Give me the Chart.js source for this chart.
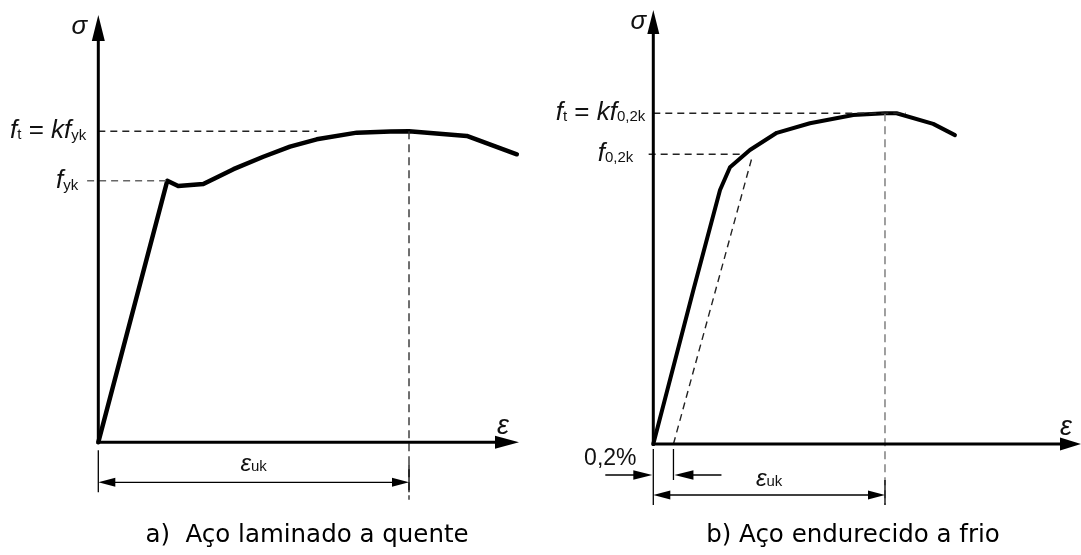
<!DOCTYPE html>
<html>
<head>
<meta charset="utf-8">
<script src="https://cdn.jsdelivr.net/npm/chart.js@4.4.0/dist/chart.umd.min.js"></script>
<style>
  html, body { margin: 0; padding: 0; background: #fff; }
  #wrap { position: relative; width: 1081px; height: 555px; overflow: hidden; }
  canvas { position: absolute; top: 0; }
</style>
</head>
<body>
<div id="wrap">
  <canvas id="chartA" width="540" height="555" style="left:0"></canvas>
  <canvas id="chartB" width="541" height="555" style="left:540px"></canvas>
</div>
<script>
// a) Aço laminado a quente (strain in arbitrary units, eps_uk = 10; stress in % of ft)
const strainA = [0, 2.22, 2.57, 3.38, 4.35, 5.31, 6.17, 7.03, 8.32, 9.4, 10, 11.86, 13.47];
const stressA = [0, 84.1, 82.4, 83.05, 87.8, 91.8, 95.05, 97.4, 99.55, 99.9, 100, 98.5, 92.6];
const ftA = 100, fykA = 84.1, eukA = 10;

// b) Aço endurecido a frio
const strainB = [0, 1.73, 2.88, 3.31, 4.17, 5.33, 6.76, 8.63, 10, 10.5, 12.08, 13.02];
const stressB = [0, 46.6, 76.8, 83.7, 88.9, 94.1, 97.0, 99.5, 100, 100, 96.8, 93.4];
const ftB = 100, f02kB = 87.6, eukB = 10, offsetB = 0.87;
const offsetTopB = [4.25, 86.4];

const FONT = '"Liberation Sans", Arial, sans-serif';
const TITLE_FONT = '"DejaVu Sans", Verdana, sans-serif';

function pts(xs, ys) {
  return xs.map((v, i) => ({ x: v, y: ys[i] }));
}

function seg(ctx, x1, y1, x2, y2) {
  ctx.beginPath();
  ctx.moveTo(x1, y1);
  ctx.lineTo(x2, y2);
  ctx.stroke();
}

function arrowHead(ctx, x, y, dir, len, half) {
  ctx.beginPath();
  ctx.moveTo(x, y);
  if (dir === 'up') { ctx.lineTo(x - half, y + len); ctx.lineTo(x + half, y + len); }
  if (dir === 'right') { ctx.lineTo(x - len, y - half); ctx.lineTo(x - len, y + half); }
  if (dir === 'left') { ctx.lineTo(x + len, y - half); ctx.lineTo(x + len, y + half); }
  ctx.closePath();
  ctx.fill();
}

// runs: [text, size, italic, dy]
function drawRuns(ctx, runs, x, y, align) {
  const f = r => (r[2] ? 'italic ' : '') + r[1] + 'px ' + FONT;
  let total = 0;
  runs.forEach(r => { ctx.font = f(r); total += ctx.measureText(r[0]).width; });
  let cx = align === 'right' ? x - total : align === 'center' ? x - total / 2 : x;
  ctx.textAlign = 'left';
  ctx.textBaseline = 'alphabetic';
  runs.forEach(r => {
    ctx.font = f(r);
    ctx.fillText(r[0], cx, y + (r[3] || 0));
    cx += ctx.measureText(r[0]).width;
  });
}

function dashed(data, color, dash) {
  return {
    data: data, showLine: true, borderColor: color, borderWidth: 1.4,
    borderDash: dash, pointRadius: 0, tension: 0, fill: false
  };
}

function curve(data, width) {
  return {
    data: data, showLine: true, borderColor: '#000', borderWidth: width,
    borderJoinStyle: 'round', borderCapStyle: 'round', pointRadius: 0, tension: 0, fill: false
  };
}

function baseOptions(xr, yr) {
  return {
    responsive: false,
    animation: false,
    events: [],
    layout: { padding: 0 },
    plugins: { legend: { display: false }, tooltip: { enabled: false } },
    scales: {
      x: { type: 'linear', min: xr[0], max: xr[1], display: false },
      y: { type: 'linear', min: yr[0], max: yr[1], display: false }
    }
  };
}

const annotA = {
  id: 'annotA',
  afterDatasetsDraw(chart) {
    const { ctx, scales: { x, y } } = chart;
    const X = v => x.getPixelForValue(v), Y = v => y.getPixelForValue(v);
    const ox = X(0), oy = Y(0), ex = X(eukA);
    ctx.save();
    ctx.fillStyle = '#000';
    ctx.strokeStyle = '#000';
    // axes
    ctx.lineWidth = 3;
    seg(ctx, ox, oy + 1.5, ox, 30);
    arrowHead(ctx, ox, 15, 'up', 26, 6.5);
    seg(ctx, ox - 1.5, oy, 500, oy);
    arrowHead(ctx, 519, oy, 'right', 24, 6.5);
    // dimension eps_uk
    ctx.lineWidth = 1.3;
    seg(ctx, ox, oy + 8, ox, oy + 50);
    seg(ctx, ex, oy + 22, ex, oy + 50);
    const dy = oy + 40;
    seg(ctx, ox + 10, dy, ex - 10, dy);
    arrowHead(ctx, ox, dy, 'left', 17, 4.5);
    arrowHead(ctx, ex, dy, 'right', 17, 4.5);
    // labels
    ctx.fillStyle = '#111';
    drawRuns(ctx, [['f', 26, true], ['t', 15, false, 1], [' = ', 26, false], ['k', 26, true], ['f', 26, true], ['yk', 15, false, 2]], ox - 12, Y(ftA) + 7, 'right');
    drawRuns(ctx, [['f', 26, true], ['yk', 15, false, 2]], ox - 20, Y(fykA) + 7, 'right');
    drawRuns(ctx, [['σ', 26, true]], ox - 19, 34, 'center');
    drawRuns(ctx, [['ε', 27, true]], 503, oy - 8, 'center');
    drawRuns(ctx, [['ε', 24, true], ['uk', 15, false]], (ox + ex) / 2, oy + 29, 'center');
    ctx.font = '24.5px ' + TITLE_FONT;
    ctx.fillStyle = '#000';
    ctx.textAlign = 'center';
    ctx.fillText('a)  Aço laminado a quente', 307, 542);
    ctx.restore();
  }
};

const annotB = {
  id: 'annotB',
  afterDatasetsDraw(chart) {
    const { ctx, scales: { x, y } } = chart;
    const X = v => x.getPixelForValue(v), Y = v => y.getPixelForValue(v);
    const ox = X(0), oy = Y(0), ex = X(eukB), px = X(offsetB);
    ctx.save();
    ctx.fillStyle = '#000';
    ctx.strokeStyle = '#000';
    // axes
    ctx.lineWidth = 3;
    seg(ctx, ox, oy + 1.5, ox, 26);
    arrowHead(ctx, ox, 10, 'up', 24, 6);
    seg(ctx, ox - 1.5, oy, 525, oy);
    arrowHead(ctx, 541, oy, 'right', 21, 6.5);
    // 0,2% offset dimension
    ctx.lineWidth = 1.3;
    seg(ctx, ox, oy + 5, ox, oy + 61);
    seg(ctx, px, oy + 5, px, oy + 36);
    const ay = oy + 31;
    seg(ctx, ox - 48, ay, ox - 15, ay);
    arrowHead(ctx, ox - 1, ay, 'right', 19, 4.7);
    seg(ctx, px + 15, ay, px + 48, ay);
    arrowHead(ctx, px + 1, ay, 'left', 19, 4.7);
    // dimension eps_uk
    const dy = oy + 51;
    seg(ctx, ex, oy + 36, ex, oy + 61);
    seg(ctx, ox + 10, dy, ex - 10, dy);
    arrowHead(ctx, ox, dy, 'left', 17, 4.5);
    arrowHead(ctx, ex, dy, 'right', 17, 4.5);
    // labels
    ctx.fillStyle = '#111';
    drawRuns(ctx, [['f', 26, true], ['t', 15, false, 1], [' = ', 26, false], ['k', 26, true], ['f', 26, true], ['0,2k', 15, false, 1]], ox - 8, Y(ftB) + 7, 'right');
    drawRuns(ctx, [['f', 26, true], ['0,2k', 15, false, 1]], ox - 20, Y(f02kB) + 7, 'right');
    drawRuns(ctx, [['σ', 26, true]], ox - 15, 29, 'center');
    drawRuns(ctx, [['ε', 27, true]], 526, oy - 9, 'center');
    drawRuns(ctx, [['0,2%', 23, false]], ox - 43, oy + 21, 'center');
    drawRuns(ctx, [['ε', 24, true], ['uk', 15, false]], (ox + ex) / 2, oy + 42, 'center');
    ctx.font = '24.5px ' + TITLE_FONT;
    ctx.fillStyle = '#000';
    ctx.textAlign = 'center';
    ctx.fillText('b) Aço endurecido a frio', 313, 542);
    ctx.restore();
  }
};

new Chart(document.getElementById('chartA'), {
  type: 'scatter',
  data: {
    datasets: [
      dashed([{ x: 0, y: ftA }, { x: 7.03, y: ftA }], '#222', [7, 5]),
      dashed([{ x: -0.36, y: fykA }, { x: strainA[1], y: fykA }], '#666', [7, 5]),
      dashed([{ x: eukA, y: ftA }, { x: eukA, y: -18.5 }], '#333', [8, 5]),
      curve(pts(strainA, stressA), 4.5)
    ]
  },
  options: baseOptions([-3.164, 14.216], [-36.24, 142.2]),
  plugins: [annotA]
});

new Chart(document.getElementById('chartB'), {
  type: 'scatter',
  data: {
    datasets: [
      dashed([{ x: 0, y: ftB }, { x: 10.9, y: ftB }], '#222', [7, 5]),
      dashed([{ x: -0.2, y: f02kB }, { x: 3.9, y: f02kB }], '#222', [7, 5]),
      dashed([{ x: eukB, y: ftB }, { x: eukB, y: -18.4 }], '#777', [8, 5]),
      dashed([{ x: offsetB, y: 0 }, { x: offsetTopB[0], y: offsetTopB[1] }], '#222', [7, 5]),
      curve(pts(strainB, stressB), 4)
    ]
  },
  options: baseOptions([-4.89, 18.46], [-33.57, 134.26]),
  plugins: [annotB]
});
</script>
</body>
</html>
